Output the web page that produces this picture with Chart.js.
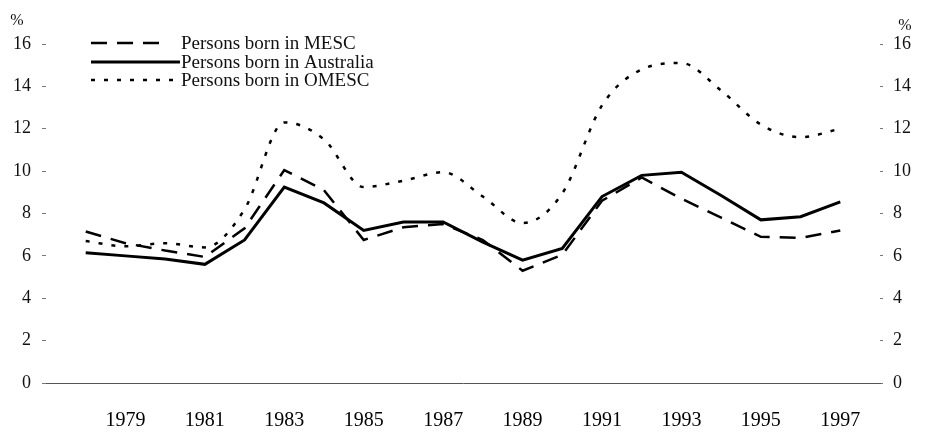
<!DOCTYPE html>
<html>
<head>
<meta charset="utf-8">
<script src="https://cdn.jsdelivr.net/npm/chart.js@4"></script>
<style>
  html, body { margin: 0; padding: 0; background: #fff; }
  #wrap { width: 930px; height: 435px; }
</style>
</head>
<body>
<div id="wrap"><canvas id="myChart" width="930" height="435"></canvas></div>
<script>
const years = [1978, 1979, 1980, 1981, 1982, 1983, 1984, 1985, 1986, 1987,
               1988, 1989, 1990, 1991, 1992, 1993, 1994, 1995, 1996, 1997];

const mescValues = [7.15, 6.6, 6.25, 5.95, 7.3, 10.05, 9.1, 6.75, 7.35, 7.5,
                    6.75, 5.3, 6.05, 8.6, 9.7, 8.7, 7.8, 6.9, 6.85, 7.2];
const australiaValues = [6.15, 6.0, 5.85, 5.6, 6.75, 9.25, 8.5, 7.2, 7.6, 7.6,
                         6.65, 5.8, 6.35, 8.8, 9.8, 9.95, 8.85, 7.7, 7.85, 8.55];
const omescValues = [6.7, 6.45, 6.6, 6.4, 8.2, 12.3, 11.5, 9.25, 9.55, 9.95,
                     8.8, 7.55, 8.95, 13.1, 14.8, 15.1, 13.8, 12.2, 11.6, 12.0];

const xTickYears = [1979, 1981, 1983, 1985, 1987, 1989, 1991, 1993, 1995, 1997];
const yTickValues = [0, 2, 4, 6, 8, 10, 12, 14, 16];

const seriesNames = ['Persons born in MESC', 'Persons born in Australia', 'Persons born in OMESC'];

const serif = 'Liberation Serif, Times New Roman, serif';

function toPoints(vals) {
    return years.map((yr, i) => ({ x: yr, y: vals[i] }));
}

// legend sits inside the plot, top left, like the printed figure
const legendPlugin = {
    id: 'insideLegend',
    afterDraw(chart) {
        const ctx = chart.ctx;
        const rows = [43, 62, 80];
        const lineEnds = [167, 180, 180];
        ctx.save();
        chart.data.datasets.forEach((ds, i) => {
            ctx.beginPath();
            ctx.strokeStyle = ds.borderColor;
            ctx.lineWidth = ds.borderWidth;
            ctx.setLineDash(ds.borderDash || []);
            ctx.moveTo(91, rows[i]);
            ctx.lineTo(lineEnds[i], rows[i]);
            ctx.stroke();
            ctx.setLineDash([]);
            ctx.fillStyle = '#111';
            ctx.font = '19px ' + serif;
            ctx.textBaseline = 'middle';
            ctx.textAlign = 'left';
            ctx.fillText(ds.label, 181, rows[i] + 1);
        });
        ctx.font = '16px ' + serif;
        ctx.textAlign = 'center';
        ctx.fillText('%', 17, 21);
        ctx.fillText('%', 905, 26);
        ctx.restore();
    }
};

const data = {
    datasets: [{
        label: seriesNames[0],
        data: toPoints(mescValues),
        borderColor: '#000',
        borderWidth: 2.5,
        borderDash: [16, 10],
        pointRadius: 0,
        tension: 0
    }, {
        label: seriesNames[1],
        data: toPoints(australiaValues),
        borderColor: '#000',
        borderWidth: 3,
        pointRadius: 0,
        tension: 0
    }, {
        label: seriesNames[2],
        data: toPoints(omescValues),
        borderColor: '#000',
        borderWidth: 2.5,
        borderDash: [4, 9],
        pointRadius: 0,
        cubicInterpolationMode: 'monotone'
    }]
};

const config = {
    type: 'line',
    data: data,
    plugins: [legendPlugin],
    options: {
        responsive: false,
        animation: false,
        layout: { padding: { top: 44, left: 0, right: 0, bottom: 0 } },
        plugins: {
            legend: { display: false },
            tooltip: { enabled: false }
        },
        scales: {
            x: {
                type: 'linear',
                min: 1977,
                max: 1998,
                afterBuildTicks: (scale) => {
                    scale.ticks = xTickYears.map(v => ({ value: v }));
                },
                afterFit: (scale) => { scale.height = 52; },
                grid: { display: false },
                border: { display: true, color: '#555', width: 1 },
                ticks: {
                    color: '#000',
                    font: { family: serif, size: 20 },
                    padding: 18,
                    maxRotation: 0,
                    callback: (v) => String(v)
                }
            },
            y: {
                position: 'left',
                min: 0,
                max: 16,
                afterBuildTicks: (scale) => {
                    scale.ticks = yTickValues.map(v => ({ value: v }));
                },
                afterFit: (scale) => { scale.width = 46; },
                grid: { drawOnChartArea: false, tickLength: 4, color: '#777' },
                border: { display: false },
                ticks: {
                    color: '#111',
                    font: { family: serif, size: 18 },
                    padding: 11
                }
            },
            y2: {
                position: 'right',
                min: 0,
                max: 16,
                afterBuildTicks: (scale) => {
                    scale.ticks = yTickValues.map(v => ({ value: v }));
                },
                afterFit: (scale) => { scale.width = 50; },
                grid: { drawOnChartArea: false, tickLength: 3, color: '#777' },
                border: { display: false },
                ticks: {
                    color: '#111',
                    font: { family: serif, size: 18 },
                    padding: 10
                }
            }
        }
    }
};

const myChart = new Chart(
    document.getElementById('myChart'),
    config
);
</script>
</body>
</html>
